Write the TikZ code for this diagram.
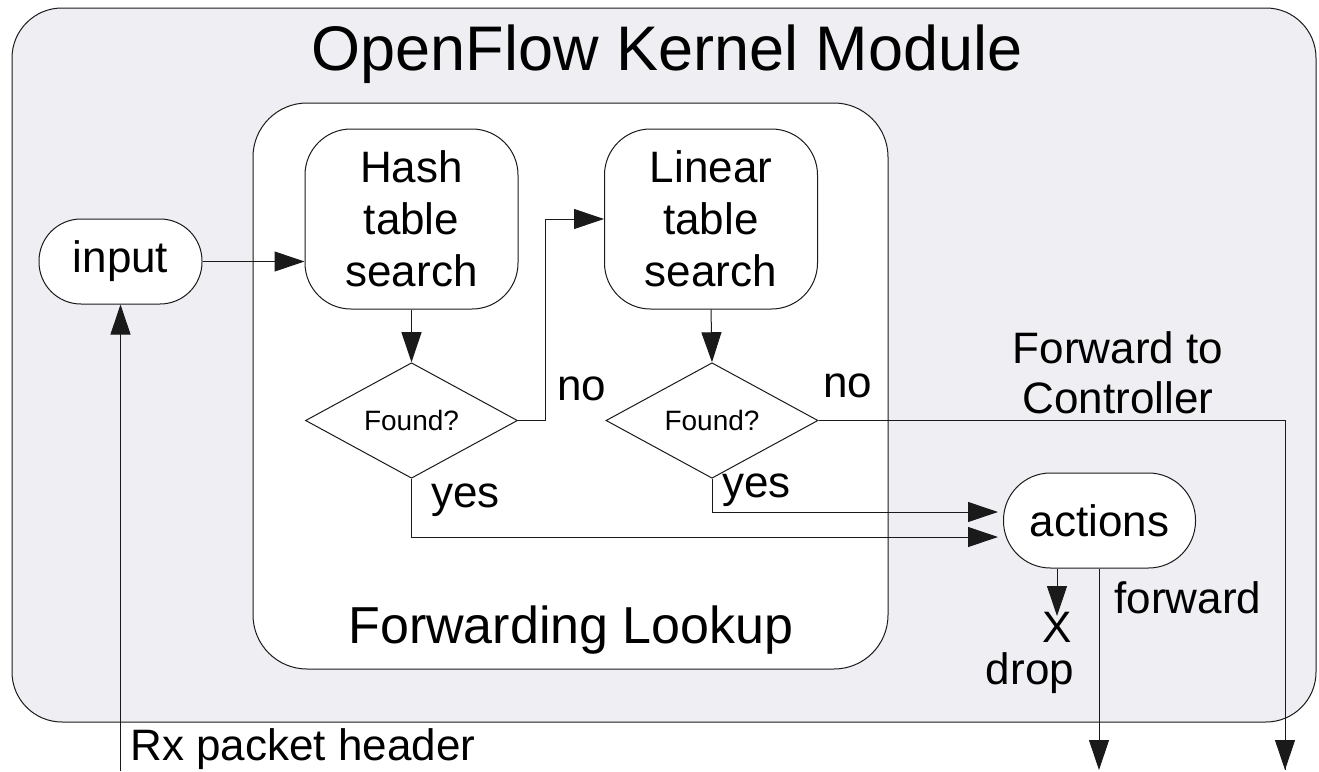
\documentclass[tikz,border=0pt]{standalone}
\usepackage{fontspec}
\setmainfont{Liberation Sans}
\usetikzlibrary{arrows.meta,shapes.geometric,calc}
\definecolor{modfill}{HTML}{EFEEF3}
\definecolor{ink}{HTML}{1A1A1A}
\begin{document}
\begin{tikzpicture}[x=1pt,y=-1pt,line width=1pt,draw=ink,
  arr/.style={-{Triangle[length=30pt,width=20pt]}},
  txt/.style={font=\fontsize{44}{52}\selectfont},
  proc/.style={draw, fill=white, rounded corners=46pt, minimum width=213pt, minimum height=180pt, align=center, inner sep=0pt, txt},
  term/.style={draw, fill=white, inner sep=0pt, txt},
  dec/.style={draw, fill=white, diamond, minimum width=212pt, minimum height=105pt, inner sep=0pt, font=\fontsize{28}{32}\selectfont},
  lbl/.style={inner sep=0pt, txt},
  frame/.style={draw, inner sep=0pt}]
\useasboundingbox (0,0) rectangle (1319,771);
% containers
\node[frame, fill=modfill, rounded corners=50pt, minimum width=1304pt, minimum height=714pt] (module) at (664,365) {};
\node[font=\fontsize{63}{70}\selectfont, anchor=base, inner sep=0pt] (title) at (667,70) {OpenFlow Kernel Module};
\node[frame, fill=white, rounded corners=54pt, minimum width=635pt, minimum height=566pt] (lookup) at (570.5,386) {};
\node[font=\fontsize{52}{60}\selectfont, anchor=base, inner sep=0pt] (lookuplbl) at (571,643) {Forwarding Lookup};
% nodes
\node[term, rounded corners=42pt, minimum width=163pt, minimum height=85pt] (input) at (120.5,261.5) {input};
\node[proc] (hash) at (411.5,219) {Hash\\table\\search};
\node[proc] (linear) at (711,219) {Linear\\table\\search};
\node[dec] (d1) at (411.5,420.5) {Found?};
\node[dec] (d2) at (712,420.5) {Found?};
\node[term, rounded corners=47pt, minimum width=192pt, minimum height=95pt] (actions) at (1099.5,520.5) {actions};
% labels
\node[lbl, anchor=base west] (no1) at (557,400) {no};
\node[lbl, anchor=base west] (no2) at (823,397) {no};
\node[lbl, anchor=base west] (yes1) at (431,507) {yes};
\node[lbl, anchor=base west] (yes2) at (722,497) {yes};
\node[lbl, anchor=base] (fwdctl) at (1118,363) {Forward to};
\node[lbl, anchor=base] (fwdctl2) at (1118,413) {Controller};
\node[lbl, anchor=base west] (fwdlbl) at (1114,613) {forward};
\node[lbl, anchor=base] (xmark) at (1057,642) {X};
\node[lbl, anchor=base] (droplbl) at (1030,684) {drop};
\node[lbl, anchor=base west] (rxlbl) at (130,760) {Rx packet header};
% coordinates
\coordinate (rxend) at (120.5,771);
\coordinate (a1) at (998,537);
\coordinate (a2) at (998,512);
\coordinate (droptip) at (1057,616);
\coordinate (fwdend) at (1099,770);
\coordinate (ctlend) at (1285,770);
% connectors
\draw[arr] (rxend) -- (input.south);
\draw[arr] (input.east) -- (hash.west |- input.east);
\draw[arr] (hash.south) -- (d1.north);
\draw[arr] (linear.south) -- (d2.north);
\draw[arr] (d1.east) -- ++(27,0) |- (linear.west);
\draw[arr] (d1.south) |- (a1);
\draw[arr] (d2.south) |- (a2);
\draw (d2.east) -| (ctlend);
\draw[arr] (ctlend |- module.south) -- (ctlend);
\draw[arr] (droptip |- actions.south) -- (droptip);
\draw[arr] (fwdend |- actions.south) -- (fwdend);
\end{tikzpicture}
\end{document}
